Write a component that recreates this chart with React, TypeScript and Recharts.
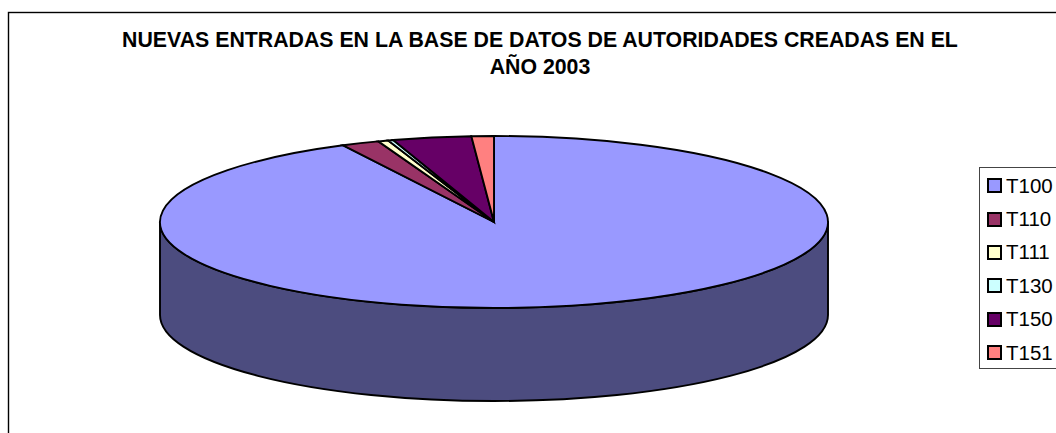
import { PieChart, Pie, Legend } from "recharts"

const categories = ["T100", "T110", "T111", "T130", "T150", "T151"]
const values = [9250, 183, 50, 25, 380, 108]
const colors = ["#9999ff", "#993366", "#ffffcc", "#ccffff", "#660066", "#ff8080"]
const titleLines = ["NUEVAS ENTRADAS EN LA BASE DE DATOS DE AUTORIDADES CREADAS EN EL", "AÑO 2003"]

const FONT = "'Liberation Sans', Arial, sans-serif"
const RADIUS_X = 334
const RADIUS_Y = 86
const DEPTH = 93
const EDGE = 1.9

const rows = categories.map((name, i) => ({ name, value: values[i], fill: colors[i] }))

// half the channels, that's how the old Excel 3D pies shade the wall
function darken(hex: string) {
  const n = parseInt(hex.slice(1), 16)
  const r = (n >> 16) >> 1
  const g = ((n >> 8) & 255) >> 1
  const b = (n & 255) >> 1
  return `rgb(${r},${g},${b})`
}

function TiltedSlice(props: any) {
  const { cx, cy, startAngle, endAngle, fill } = props
  const pt = (deg: number, dy = 0) => {
    const a = (deg * Math.PI) / 180
    return `${cx + RADIUS_X * Math.cos(a)} ${cy - RADIUS_Y * Math.sin(a) + dy}`
  }
  const large = Math.abs(startAngle - endAngle) > 180 ? 1 : 0
  const top = `M${cx} ${cy} L${pt(startAngle)} A${RADIUS_X} ${RADIUS_Y} 0 ${large} 1 ${pt(endAngle)} Z`

  // only the front half of the ellipse shows a wall
  const wallStart = Math.min(startAngle, 0)
  const wallEnd = Math.max(endAngle, -180)
  const wall =
    wallStart > wallEnd
      ? `M${pt(wallStart)} A${RADIUS_X} ${RADIUS_Y} 0 0 1 ${pt(wallEnd)} L${pt(wallEnd, DEPTH)} A${RADIUS_X} ${RADIUS_Y} 0 0 0 ${pt(wallStart, DEPTH)} Z`
      : null

  return (
    <g>
      {wall && <path d={wall} fill={darken(fill)} stroke="#000" strokeWidth={EDGE} strokeLinejoin="round" />}
      <path d={top} fill={fill} stroke="#000" strokeWidth={EDGE} strokeLinejoin="miter" />
    </g>
  )
}

function LegendBox({ payload }: any) {
  return (
    <div
      style={{
        border: "1px solid #444",
        background: "#fff",
        height: 202,
        width: 120,
        boxSizing: "border-box",
        paddingTop: 1,
        fontFamily: FONT,
        fontSize: 20.5,
        color: "#000",
      }}
    >
      {(payload || []).map((p: any) => (
        <div key={p.value} style={{ display: "flex", alignItems: "center", height: 33.4, paddingLeft: 7 }}>
          <span
            style={{
              width: 11,
              height: 11,
              border: "2px solid #000",
              background: p.color,
              marginRight: 4,
              flex: "none",
            }}
          />
          {p.value}
        </div>
      ))}
    </div>
  )
}

export default function App() {
  return (
    <div style={{ width: 1056, height: 433, overflow: "hidden" }}>
      <style>{`body { margin: 0 }`}</style>
      <PieChart width={1056} height={433} margin={{ top: 0, right: 0, bottom: 0, left: 0 }}>
        <rect x={8.5} y={12.5} width={1200} height={600} fill="#fff" stroke="#000" strokeWidth={1.4} />
        {titleLines.map((line, i) => (
          <text
            key={line}
            x={540}
            y={47 + i * 27}
            textAnchor="middle"
            fontFamily={FONT}
            fontWeight="bold"
            fontSize={21.3}
            fill="#000"
          >
            {line}
          </text>
        ))}
        <Pie
          data={rows}
          dataKey="value"
          nameKey="name"
          cx={494}
          cy={222}
          outerRadius={RADIUS_X}
          startAngle={90}
          endAngle={-270}
          shape={TiltedSlice}
          isAnimationActive={false}
          label={false}
          labelLine={false}
        />
        <Legend
          content={<LegendBox />}
          layout="vertical"
          wrapperStyle={{ position: "absolute", left: 979, top: 167, width: 120, height: 202 }}
        />
      </PieChart>
    </div>
  )
}
